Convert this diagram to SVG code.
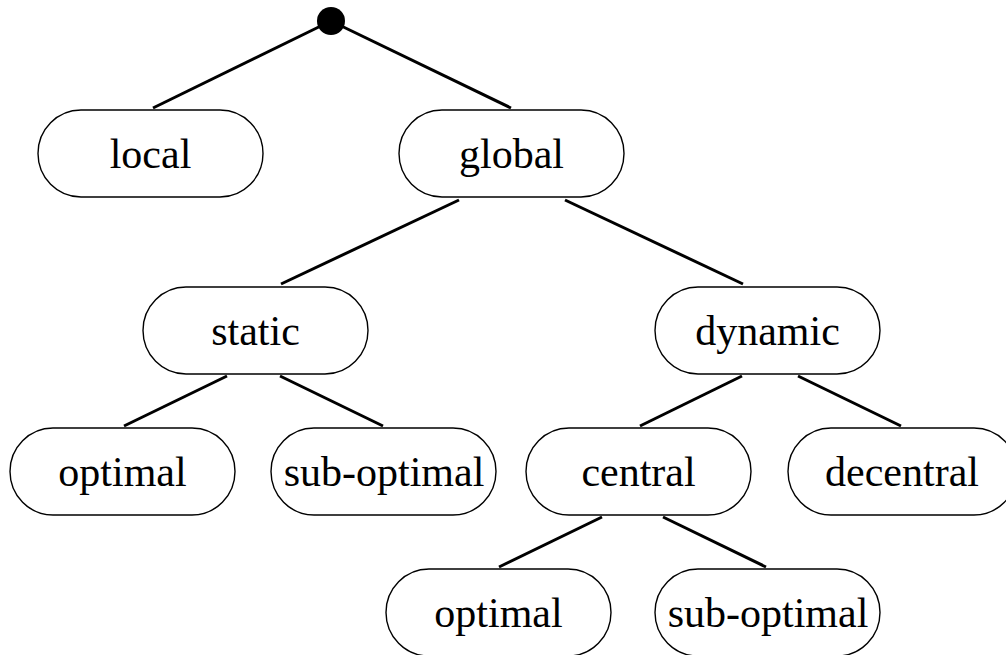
<svg xmlns="http://www.w3.org/2000/svg" width="1006" height="655" viewBox="0 0 1006 655">
<style>
.n rect{fill:#fff;stroke:#000;stroke-width:1.4}
.n text{font-family:"Liberation Serif","Times New Roman",serif;font-size:42px;fill:#000;text-anchor:middle}
#edges line{stroke:#000;stroke-width:3;stroke-linecap:butt}
</style>
<rect width="1006" height="655" fill="#fff"/>
<g id="edges">
<line x1="331" y1="21" x2="153" y2="108"/>
<line x1="331" y1="21" x2="511" y2="108"/>
<line x1="459" y1="200" x2="281" y2="284"/>
<line x1="565" y1="200" x2="743" y2="284"/>
<line x1="227" y1="376" x2="124" y2="426"/>
<line x1="280" y1="376" x2="383" y2="426"/>
<line x1="742" y1="376" x2="640" y2="426"/>
<line x1="798" y1="376" x2="901" y2="426"/>
<line x1="602" y1="517" x2="499" y2="567"/>
<line x1="663" y1="517" x2="766" y2="567"/>
</g>
<g id="root"><circle cx="331" cy="21" r="14" fill="#000"/></g>
<g id="local" class="n"><rect x="38" y="110" width="225" height="87" rx="43" ry="43.5"/><text x="150.5" y="168">local</text></g>
<g id="global" class="n"><rect x="399" y="110" width="225" height="87" rx="43" ry="43.5"/><text x="511.5" y="168">global</text></g>
<g id="static" class="n"><rect x="143" y="287" width="225" height="87" rx="43" ry="43.5"/><text x="255.5" y="345">static</text></g>
<g id="dynamic" class="n"><rect x="655" y="287" width="225" height="87" rx="43" ry="43.5"/><text x="767.5" y="345">dynamic</text></g>
<g id="optimal1" class="n"><rect x="10" y="428" width="225" height="87" rx="43" ry="43.5"/><text x="122.5" y="486">optimal</text></g>
<g id="suboptimal1" class="n"><rect x="271" y="428" width="225" height="87" rx="43" ry="43.5"/><text x="384" y="486">sub-optimal</text></g>
<g id="central" class="n"><rect x="526" y="428" width="225" height="87" rx="43" ry="43.5"/><text x="638.5" y="486">central</text></g>
<g id="decentral" class="n"><rect x="788" y="428" width="229" height="87" rx="43" ry="43.5"/><text x="902" y="486">decentral</text></g>
<g id="optimal2" class="n"><rect x="386" y="569" width="225" height="87" rx="43" ry="43.5"/><text x="498.5" y="627">optimal</text></g>
<g id="suboptimal2" class="n"><rect x="655" y="569" width="225" height="87" rx="43" ry="43.5"/><text x="768" y="627">sub-optimal</text></g>
</svg>
